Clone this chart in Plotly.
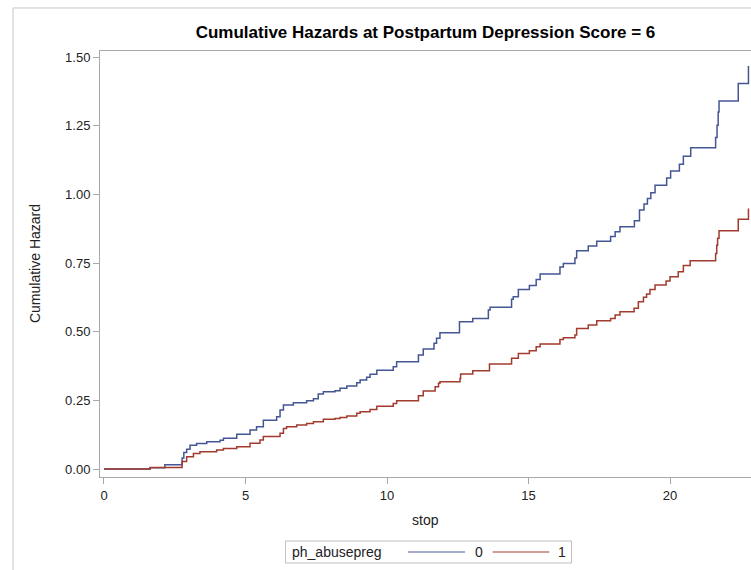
import plotly.graph_objects as go

# ---- data (step points: time where the cumulative hazard changes, value after the step)
stop_0 = [0, 1.63, 2.15, 2.76, 2.82, 2.92, 3.04, 3.27, 3.63, 4.10, 4.22, 4.69, 5.16, 5.39, 5.63,
          6.10, 6.22, 6.34, 6.69, 7.16, 7.40, 7.57, 7.75, 8.16, 8.34, 8.58, 8.93, 9.05, 9.28,
          9.40, 9.64, 10.22, 10.34, 11.11, 11.28, 11.66, 11.75, 11.87, 12.56, 13.03, 13.58,
          13.64, 14.40, 14.46, 14.64, 15.03, 15.27, 15.41, 16.11, 16.23, 16.64, 16.70, 17.11,
          17.41, 17.90, 18.06, 18.23, 18.74, 18.92, 19.08, 19.20, 19.32, 19.47, 19.88, 20.02,
          20.33, 20.47, 20.73, 21.61, 21.66, 21.70, 21.73, 22.41, 22.77]
haz_0 = [0.000, 0.005, 0.016, 0.040, 0.060, 0.072, 0.087, 0.093, 0.099, 0.105, 0.112, 0.127, 0.142,
         0.154, 0.178, 0.190, 0.215, 0.233, 0.241, 0.249, 0.256, 0.273, 0.281, 0.285, 0.294,
         0.302, 0.314, 0.324, 0.334, 0.345, 0.360, 0.372, 0.391, 0.415, 0.437, 0.458, 0.476,
         0.496, 0.536, 0.548, 0.579, 0.589, 0.618, 0.627, 0.654, 0.668, 0.690, 0.710, 0.736,
         0.748, 0.768, 0.795, 0.812, 0.829, 0.847, 0.864, 0.882, 0.904, 0.943, 0.965, 0.985,
         1.006, 1.033, 1.060, 1.085, 1.110, 1.139, 1.170, 1.207, 1.252, 1.300, 1.340, 1.404,
         1.467]

stop_1 = [0, 1.63, 2.76, 2.92, 3.16, 3.39, 3.98, 4.22, 4.69, 5.16, 5.51, 5.63, 6.22, 6.34, 6.45,
          6.81, 7.16, 7.40, 7.75, 8.16, 8.34, 8.58, 8.93, 9.05, 9.40, 9.64, 10.22, 10.34, 11.11,
          11.28, 11.70, 11.82, 11.87, 12.58, 12.60, 13.03, 13.62, 14.40, 14.64, 15.03, 15.27,
          15.41, 16.11, 16.23, 16.64, 16.70, 17.11, 17.41, 17.90, 18.06, 18.23, 18.73, 18.88,
          19.06, 19.17, 19.29, 19.47, 19.86, 20.00, 20.29, 20.47, 20.71, 21.61, 21.65, 21.68,
          21.73, 22.41, 22.77]
haz_1 = [0.000, 0.006, 0.027, 0.045, 0.057, 0.063, 0.069, 0.075, 0.081, 0.094, 0.106, 0.118,
         0.130, 0.148, 0.154, 0.160, 0.166, 0.172, 0.181, 0.184, 0.188, 0.193, 0.203, 0.209,
         0.217, 0.229, 0.239, 0.249, 0.267, 0.284, 0.300, 0.312, 0.318, 0.330, 0.346, 0.358,
         0.382, 0.403, 0.421, 0.431, 0.445, 0.455, 0.472, 0.478, 0.488, 0.512, 0.524, 0.540,
         0.548, 0.561, 0.573, 0.585, 0.609, 0.625, 0.637, 0.654, 0.670, 0.685, 0.700, 0.718,
         0.741, 0.758, 0.785, 0.815, 0.840, 0.868, 0.909, 0.949]

group_labels = ["0", "1"]
legend_title = "ph_abusepreg"
x_ticks = [0, 5, 10, 15, 20]
y_ticks = [0, 0.25, 0.5, 0.75, 1.0, 1.25, 1.5]

BLUE = "#445694"
RED = "#A23A2E"
FONT = "Liberation Sans, Arial, sans-serif"
AXIS_GREY = "#a8a8a8"

fig = go.Figure()
fig.add_trace(go.Scatter(x=stop_0, y=haz_0, mode="lines", line=dict(color=BLUE, width=1.5, shape="hv"),
                         name=group_labels[0], showlegend=False))
fig.add_trace(go.Scatter(x=stop_1, y=haz_1, mode="lines", line=dict(color=RED, width=1.5, shape="hv"),
                         name=group_labels[1], showlegend=False))

fig.update_layout(
    width=751, height=570,
    margin=dict(l=100, r=0, t=51, b=93),
    paper_bgcolor="white", plot_bgcolor="white",
    font=dict(family=FONT, color="#222222"),
    title=dict(text="<b>Cumulative Hazards at Postpartum Depression Score = 6</b>",
               font=dict(size=17, family=FONT, color="#000000"),
               x=0.5, xref="paper", xanchor="center",
               y=1 - 32 / 570, yref="container", yanchor="middle"),
    xaxis=dict(range=[-0.141, 22.86], tickvals=x_ticks, ticktext=[str(v) for v in x_ticks],
               showgrid=False, zeroline=False, showline=True, linecolor=AXIS_GREY, linewidth=1,
               mirror=True, ticks="outside", ticklen=6, tickcolor=AXIS_GREY,
               tickfont=dict(size=13, family=FONT, color="#222222")),
    yaxis=dict(range=[-0.029, 1.522], tickvals=y_ticks, ticktext=[f"{v:.2f}" for v in y_ticks],
               showgrid=False, zeroline=False, showline=True, linecolor=AXIS_GREY, linewidth=1,
               ticks="outside", ticklen=6, tickcolor=AXIS_GREY,
               tickfont=dict(size=13, family=FONT, color="#222222")),
)

# axis titles
fig.add_annotation(text="Cumulative Hazard", xref="paper", yref="paper", x=-0.0998, y=0.5,
                   textangle=-90, showarrow=False, xanchor="center", yanchor="middle",
                   font=dict(size=14, family=FONT, color="#222222"))
fig.add_annotation(text="stop", xref="paper", yref="paper", x=0.5, y=-0.101,
                   showarrow=False, xanchor="center", yanchor="middle",
                   font=dict(size=14, family=FONT, color="#222222"))

# outer frame (light grey)
fig.add_shape(type="rect", xref="paper", yref="paper", x0=-0.1336, x1=1.05, y0=-0.3, y1=1.101,
              line=dict(color="#c8c8c8", width=1), fillcolor="rgba(0,0,0,0)", layer="below")

# legend box
ly0, ly1 = -0.2019, -0.1502
lyc = (ly0 + ly1) / 2
fig.add_shape(type="rect", xref="paper", yref="paper", x0=0.285, x1=0.7243, y0=ly0, y1=ly1,
              line=dict(color="#c0c0c0", width=1), fillcolor="white")
fig.add_annotation(text=legend_title, xref="paper", yref="paper", x=0.2926, y=lyc,
                   showarrow=False, xanchor="left", yanchor="middle",
                   font=dict(size=14, family=FONT, color="#222222"))
fig.add_shape(type="line", xref="paper", yref="paper", x0=0.4731, x1=0.5607, y0=lyc, y1=lyc,
              line=dict(color=BLUE, width=1.2))
fig.add_annotation(text=group_labels[0], xref="paper", yref="paper", x=0.573, y=lyc,
                   showarrow=False, xanchor="left", yanchor="middle",
                   font=dict(size=14, family=FONT, color="#222222"))
fig.add_shape(type="line", xref="paper", yref="paper", x0=0.6032, x1=0.6902, y0=lyc, y1=lyc,
              line=dict(color=RED, width=1.2))
fig.add_annotation(text=group_labels[1], xref="paper", yref="paper", x=0.7005, y=lyc,
                   showarrow=False, xanchor="left", yanchor="middle",
                   font=dict(size=14, family=FONT, color="#222222"))

fig.write_html("out.html")
